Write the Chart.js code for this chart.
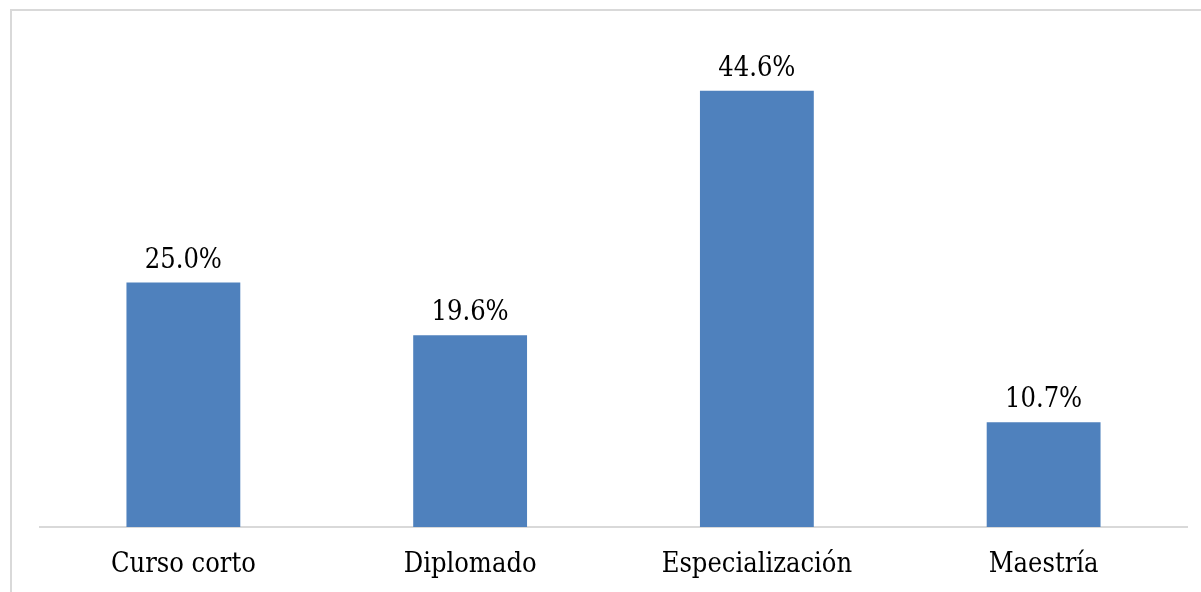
<!DOCTYPE html>
<html>
<head>
<meta charset="utf-8">
<script src="https://cdn.jsdelivr.net/npm/chart.js@4.4.0/dist/chart.umd.min.js"></script>
<style>
html,body{margin:0;padding:0;background:#fff;overflow:hidden;}
#frame{position:absolute;left:10px;top:9px;width:1300px;height:700px;border:2px solid #d9d9d9;box-sizing:border-box;}
#wrap{position:absolute;left:0;top:0;width:1201px;height:592px;}
</style>
</head>
<body>
<div id="frame"></div>
<div id="wrap"><canvas id="c" width="1201" height="592"></canvas></div>
<script>
const categories = ["Curso corto", "Diplomado", "Especialización", "Maestría"];
const values = [25.0, 19.6, 44.6, 10.7];
const valueLabels = ["25.0%", "19.6%", "44.6%", "10.7%"];

const FONT = '"DejaVu Serif Condensed", "DejaVu Serif", serif';

const labelPlugin = {
  id: 'barLabels',
  afterDatasetsDraw(chart) {
    const ctx = chart.ctx;
    const meta = chart.getDatasetMeta(0);
    ctx.save();
    ctx.font = '27px ' + FONT;
    ctx.fillStyle = '#000';
    ctx.textAlign = 'center';
    ctx.textBaseline = 'alphabetic';
    meta.data.forEach((bar, i) => {
      ctx.fillText(valueLabels[i], bar.x, bar.y - 15);
    });
    ctx.restore();
  }
};

new Chart(document.getElementById('c'), {
  type: 'bar',
  data: {
    labels: categories,
    datasets: [{
      data: values,
      backgroundColor: '#4F81BD',
      borderWidth: 0,
      barPercentage: 1,
      categoryPercentage: 0.397
    }]
  },
  options: {
    responsive: false,
    animation: false,
    layout: { padding: { left: 40, right: 14, top: 38, bottom: 0 } },
    plugins: { legend: { display: false }, tooltip: { enabled: false } },
    scales: {
      x: {
        grid: { display: false, drawTicks: false },
        border: { display: true, color: '#d9d9d9', width: 2 },
        ticks: { color: '#000', font: { family: FONT, size: 27 }, padding: 22 },
        afterFit: s => { s.height = 65; }
      },
      y: {
        display: false,
        min: 0,
        max: 50
      }
    }
  },
  plugins: [labelPlugin]
});
</script>
</body>
</html>
